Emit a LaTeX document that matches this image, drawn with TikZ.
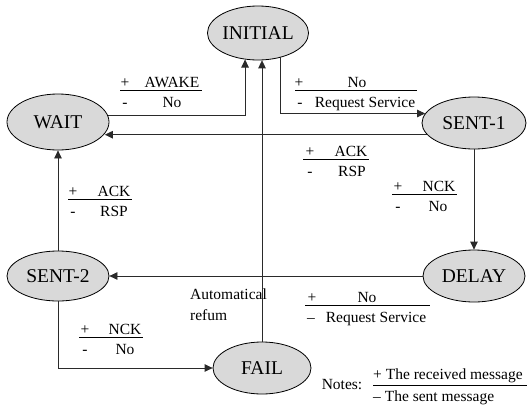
\documentclass[tikz,border=0pt]{standalone}
\usepackage{fontspec}
\setmainfont{Liberation Serif}
\usetikzlibrary{arrows.meta,shapes.geometric}
\definecolor{stategray}{HTML}{D9D9D9}
\definecolor{wiregray}{HTML}{2A2A2A}

\begin{document}
\begin{tikzpicture}[x=1pt,y=-1pt,
  state/.style={ellipse,draw=black,line width=0.8pt,fill=stategray,inner sep=0pt,
    font=\fontsize{19.5}{20}\selectfont},
  arr/.style={draw=wiregray,line width=0.8pt,-{Triangle[length=8pt,width=7.5pt]}},
  lbl/.style={inner sep=0pt,anchor=base,font=\fontsize{15.5}{17}\selectfont},
  bar/.style={draw=black,line width=0.8pt}]

\useasboundingbox (0,0) rectangle (528,405);

% states
\node[state,minimum width=94pt,minimum height=54pt] (init)  at (258,33)  {INITIAL};
\node[state,minimum width=102pt,minimum height=56pt] (wait)  at (58,122)  {WAIT};
\node[state,minimum width=104pt,minimum height=52pt] (sent1) at (474,123) {SENT-1};
\node[state,minimum width=102pt,minimum height=50pt] (sent2) at (58,276)  {SENT-2};
\node[state,minimum width=102pt,minimum height=52pt] (delay) at (474,276) {DELAY};
\node[state,minimum width=98pt,minimum height=52pt]  (fail)  at (262,368) {FAIL};

% transitions
\draw[arr] (wait.8.1) -| (init.-116.7);
\draw[arr] (init.-47.4) |- (sent1.169.6);
\draw[arr] (sent1.-166.9) -- (sent1.-166.9 -| wait.-14.6);
\draw[arr] (sent1.south) -- (delay.north);
\draw[arr] (delay.west) -- (sent2.east);
\draw[arr] (sent2.north) -- (wait.south);
\draw[arr] (sent2.south) |- (fail.west);
\draw[arr] (fail.north) -- (fail.north |- init.-81.5);

% WAIT -> INITIAL
\node[lbl] (p1) at (125,87) {+};
\node[lbl] (t1) at (172,87) {AWAKE};
\draw[bar] (120,90) -- (202,90);
\node[lbl] (m1) at (125,107) {-};
\node[lbl] (b1) at (172,107) {No};

% INITIAL -> SENT-1
\node[lbl] (p2) at (299,87) {+};
\node[lbl] (t2) at (357,87) {No};
\draw[bar] (295,90) -- (417,90);
\node[lbl] (m2) at (300,107) {-};
\node[lbl] (b2) at (365,107) {Request Service};

% SENT-1 -> WAIT
\node[lbl] (p3) at (310,156) {+};
\node[lbl] (t3) at (351,156) {ACK};
\draw[bar] (303,159) -- (369,159);
\node[lbl] (m3) at (310,176) {-};
\node[lbl] (b3) at (352,176) {RSP};

% SENT-1 -> DELAY
\node[lbl] (p4) at (398,191) {+};
\node[lbl] (t4) at (439,191) {NCK};
\draw[bar] (392,194) -- (457,194);
\node[lbl] (m4) at (398,211) {-};
\node[lbl] (b4) at (438,211) {No};

% SENT-2 -> WAIT
\node[lbl] (p5) at (73,196) {+};
\node[lbl] (t5) at (114,196) {ACK};
\draw[bar] (68,199) -- (132,199);
\node[lbl] (m5) at (73,216) {-};
\node[lbl] (b5) at (114,216) {RSP};

% SENT-2 -> FAIL
\node[lbl] (p6) at (85,334) {+};
\node[lbl] (t6) at (125,334) {NCK};
\draw[bar] (79,337) -- (143,337);
\node[lbl] (m6) at (85,354) {-};
\node[lbl] (b6) at (125,354) {No};

% DELAY -> SENT-2
\node[lbl] (p7) at (312,302) {+};
\node[lbl] (t7) at (367,302) {No};
\draw[bar] (305,305) -- (430,305);
\node[lbl] (m7) at (311,322) {–};
\node[lbl] (b7) at (376,322) {Request Service};

% FAIL -> INITIAL
\node[lbl,anchor=base west] (auto1) at (190,299) {Automatical};
\node[lbl,anchor=base west] (auto2) at (190,320) {refum};

% legend
\node[lbl] (notes) at (342,389) {Notes:};
\node[lbl,anchor=base west] (recv) at (373,379) {+ The received message};
\draw[bar] (373,385) -- (527,385);
\node[lbl,anchor=base west] (sent) at (373,401) {– The sent message};

\end{tikzpicture}
\end{document}
